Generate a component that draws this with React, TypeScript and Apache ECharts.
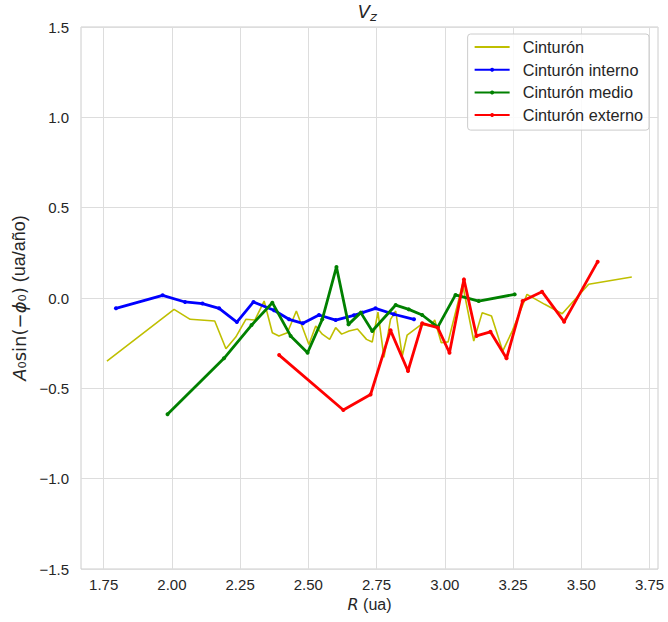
import React, { useEffect, useRef } from "react";
import * as echarts from "echarts";

const xTicks = [1.75, 2.0, 2.25, 2.5, 2.75, 3.0, 3.25, 3.5, 3.75];

const cintX = [1.762, 2.008, 2.067, 2.157, 2.198, 2.234, 2.271, 2.304, 2.338, 2.368, 2.392, 2.423, 2.456, 2.502, 2.527, 2.551, 2.578, 2.6, 2.622, 2.649, 2.68, 2.713, 2.734, 2.755, 2.777, 2.801, 2.82, 2.844, 2.862, 2.914, 2.948, 2.963, 2.987, 3.012, 3.065, 3.106, 3.137, 3.171, 3.212, 3.247, 3.301, 3.366, 3.43, 3.527, 3.685];
const cintY = [-0.349, -0.063, -0.118, -0.127, -0.281, -0.216, -0.118, -0.122, -0.017, -0.192, -0.21, -0.192, -0.072, -0.257, -0.155, -0.2, -0.229, -0.164, -0.2, -0.183, -0.172, -0.229, -0.244, -0.078, -0.329, -0.118, -0.072, -0.321, -0.205, -0.146, -0.155, -0.122, -0.248, -0.243, 0.076, -0.238, -0.081, -0.1, -0.294, -0.183, 0.02, -0.035, -0.087, 0.076, 0.116];

const intX = [1.795, 1.966, 2.048, 2.112, 2.173, 2.238, 2.299, 2.374, 2.429, 2.48, 2.539, 2.6, 2.667, 2.698, 2.746, 2.813, 2.887];
const intY = [-0.057, 0.015, -0.022, -0.031, -0.057, -0.133, -0.022, -0.068, -0.118, -0.14, -0.094, -0.122, -0.096, -0.081, -0.057, -0.09, -0.118];

const medX = [1.984, 2.191, 2.292, 2.368, 2.435, 2.497, 2.551, 2.603, 2.647, 2.692, 2.734, 2.82, 2.868, 2.917, 2.974, 3.039, 3.124, 3.256];
const medY = [-0.644, -0.334, -0.15, -0.026, -0.21, -0.303, -0.118, 0.172, -0.146, -0.081, -0.183, -0.039, -0.063, -0.094, -0.161, 0.017, -0.017, 0.02];

const extX = [2.393, 2.628, 2.728, 2.801, 2.865, 2.917, 2.974, 3.017, 3.07, 3.116, 3.167, 3.226, 3.285, 3.356, 3.437, 3.56];
const extY = [-0.316, -0.62, -0.534, -0.179, -0.404, -0.14, -0.164, -0.303, 0.103, -0.21, -0.187, -0.334, -0.017, 0.035, -0.131, 0.201];

const seriesNames = ["Cinturón", "Cinturón interno", "Cinturón medio", "Cinturón externo"];
const seriesColors = ["#bfbf00", "#0000ff", "#008000", "#ff0000"];

const pairs = (xs: number[], ys: number[]) => xs.map((x, i) => [x, ys[i]]);

const FONT = "'Liberation Sans', Arial, sans-serif";
const MATH = "'DejaVu Sans', sans-serif";
const TXT = "#262626";

const fmt = (v: number, d: number) => (v < 0 ? "\u2212" + Math.abs(v).toFixed(d) : v.toFixed(d));

export default function App() {
  const ref = useRef<HTMLDivElement>(null);
  useEffect(() => {
    if (!ref.current) return;
    const chart = echarts.init(ref.current, undefined, { renderer: "svg" });
    const data = [pairs(cintX, cintY), pairs(intX, intY), pairs(medX, medY), pairs(extX, extY)];
    chart.setOption({
      animation: false,
      backgroundColor: "#ffffff",
      textStyle: { fontFamily: FONT },
      grid: {
        left: 81,
        right: 10,
        top: 27,
        bottom: 53,
        show: true,
        borderColor: "#cccccc",
        borderWidth: 1,
        backgroundColor: "transparent",
      },
      graphic: [
        {
          type: "text",
          x: 370,
          y: 20,
          style: { text: "V", fontSize: 18, fontStyle: "italic", fontFamily: MATH, fill: TXT, textAlign: "right", textVerticalAlign: "bottom" },
        },
        {
          type: "text",
          x: 370,
          y: 23,
          style: { text: "z", fontSize: 13, fontStyle: "italic", fontFamily: MATH, fill: TXT, textAlign: "left", textVerticalAlign: "bottom" },
        },
      ],
      legend: {
        orient: "vertical",
        right: 19,
        top: 34,
        padding: [5, 6, 7, 6],
        itemWidth: 35,
        itemHeight: 5,
        itemGap: 6.7,
        backgroundColor: "rgba(255,255,255,0.85)",
        borderColor: "#cccccc",
        borderWidth: 1,
        borderRadius: 3,
        textStyle: { fontSize: 16.3, color: TXT, fontFamily: FONT, padding: [0, 0, 0, 8] },
        data: seriesNames.map((n, i) => (i === 0 ? { name: n, itemStyle: { opacity: 0 } } : { name: n })),
      },
      xAxis: {
        type: "value",
        min: 1.667,
        max: 3.781,
        name: "{i|R} (ua)",
        nameLocation: "middle",
        nameGap: 27,
        nameTextStyle: {
          fontSize: 16,
          color: TXT,
          fontFamily: FONT,
          rich: { i: { fontSize: 16, fontStyle: "italic", color: TXT, fontFamily: MATH } },
        },
        axisLine: { show: false },
        axisTick: { show: false, customValues: xTicks },
        axisLabel: { customValues: xTicks, fontSize: 15, color: TXT, margin: 8, formatter: (v: number) => fmt(v, 2) },
        splitLine: { show: true, lineStyle: { color: "#dddddd", width: 1 } },
      },
      yAxis: {
        type: "value",
        min: -1.5,
        max: 1.5,
        interval: 0.5,
        name: "{i|A}{s|₀}{m|sin(−}{p|ϕ}{s|₀}{m|)} (ua/año)",
        nameLocation: "middle",
        nameGap: 45,
        nameTextStyle: {
          fontSize: 18,
          color: TXT,
          fontFamily: FONT,
          rich: {
            i: { fontSize: 18, fontStyle: "italic", color: TXT, fontFamily: MATH },
            p: { fontSize: 18, fontStyle: "italic", color: TXT, fontFamily: MATH },
            m: { fontSize: 18, color: TXT, fontFamily: MATH },
            s: { fontSize: 18, color: TXT, fontFamily: MATH },
          },
        },
        axisLine: { show: false },
        axisTick: { show: false },
        axisLabel: { fontSize: 15, color: TXT, margin: 12, formatter: (v: number) => fmt(v, 1) },
        splitLine: { show: true, lineStyle: { color: "#dddddd", width: 1 } },
      },
      series: data.map((d, i) => ({
        name: seriesNames[i],
        type: "line",
        data: d,
        color: seriesColors[i],
        showSymbol: i !== 0,
        symbol: i === 0 ? "none" : "circle",
        symbolSize: 4,
        lineStyle: { width: i === 0 ? 1.6 : 2.8, color: seriesColors[i] },
        itemStyle: { color: seriesColors[i] },
        z: 2 + i,
      })),
    });
    return () => chart.dispose();
  }, []);
  return <div ref={ref} style={{ width: 668, height: 622, position: "absolute", left: 0, top: 0 }} />;
}
